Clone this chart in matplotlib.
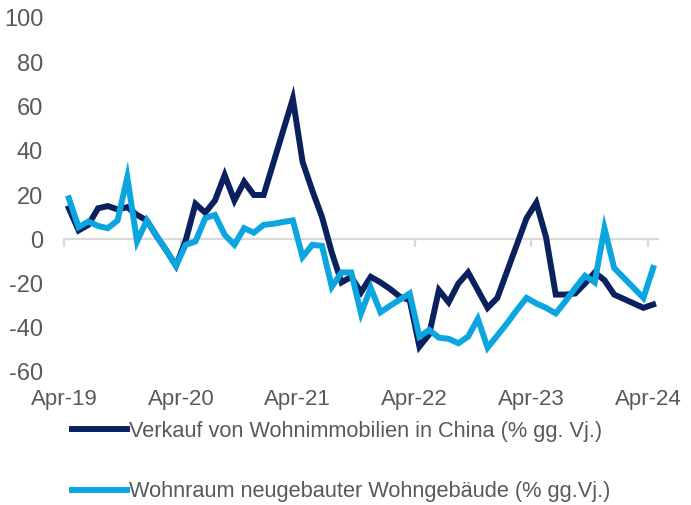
import matplotlib
matplotlib.use("Agg")
import matplotlib.pyplot as plt
import numpy as np
import pandas as pd

months = pd.period_range("2019-04", "2024-04", freq="M")

verkauf = [14, 4, 6.5, 14, 15, 13.5, 14.5, 11, 8.5, 1.5, -5, -12,
           -0.5, 16, 12, 17.5, 29, 17.5, 26, 20, 20, 34.5, 49, 63.5,
           35, 22, 10, -6, -19.5, -17, -24, -17, -19.5, -22.5, -26, -27.5,
           -48.5, -43, -23, -28.5, -20, -15, -23, -31, -26.5, -14.5, -2.5, 9.5,
           16.5, 1, -25, -25, -24.5, -20, -15, -18.5, -25, -27, -29, -31,
           -29.5]
wohnraum = [18.5, 5.5, 8, 6, 5, 8.5, 28, -1, 8.5, 1.5, -5, -12,
            -2.5, -1, 9.5, 11, 2, -2.5, 5, 3, 6.5, 7, 7.8, 8.5,
            -8, -2.5, -3, -21.5, -15, -15, -33.5, -22, -33, -30, -27.3, -24.5,
            -44, -41, -44.5, -45, -47, -44, -36, -49, -43.5, -38, -32, -26.5,
            -29, -31, -33.5, -28, -22, -16.5, -19.5, 5, -13, -17.5, -22, -26.5,
            -13]

labels = ["Verkauf von Wohnimmobilien in China (% gg. Vj.)",
          "Wohnraum neugebauter Wohngebäude (% gg.Vj.)"]
dark = "#0b215e"
light = "#0ba5e0"
grey_txt = "#595959"

plt.rcParams["font.family"] = ["Liberation Sans", "DejaVu Sans"]
plt.rcParams["axes.unicode_minus"] = False

fig = plt.figure(figsize=(6.91, 5.05), dpi=100)
ax = fig.add_axes([64 / 691, 1 - 372 / 505, (658 - 64) / 691, (372 - 18) / 505])

x = np.arange(len(months))
ax.plot(x, verkauf, color=dark, lw=4.3, label=labels[0], solid_joinstyle="miter")
ax.plot(x, wohnraum, color=light, lw=4.3, label=labels[1], solid_joinstyle="miter")

ax.set_xlim(-0.5, len(months) - 0.5)
ax.set_ylim(-60, 100)
ax.set_yticks(range(-60, 101, 20))
ax.tick_params(axis="y", length=0, pad=15, labelsize=17, labelcolor=grey_txt)

for s in ["top", "right", "left"]:
    ax.spines[s].set_visible(False)
ax.spines["bottom"].set_position(("data", 0))
ax.spines["bottom"].set_color("#d9d9d9")
ax.spines["bottom"].set_linewidth(1.6)
ax.spines["bottom"].set_zorder(0)

tick_pos = np.arange(-0.5, len(months), 12)
ax.set_xticks(tick_pos)
ax.tick_params(axis="x", direction="out", length=6, width=1.6, color="#d9d9d9", labelbottom=False)

sec = ax.secondary_xaxis("bottom")
sec.set_xticks(tick_pos)
sec.set_xticklabels([m.strftime("%b-%y") for m in months[::12]])
sec.tick_params(length=0, pad=12, labelsize=16, labelcolor=grey_txt)
sec.spines["bottom"].set_visible(False)

fig.legend(loc="upper left", bbox_to_anchor=(72 / 691, 1 - 421 / 505), frameon=False,
           fontsize=15.7, handlelength=2.5, handletextpad=0.1, labelspacing=1.8,
           labelcolor=grey_txt, borderpad=0, borderaxespad=0)

fig.savefig("out.png", dpi=100)
